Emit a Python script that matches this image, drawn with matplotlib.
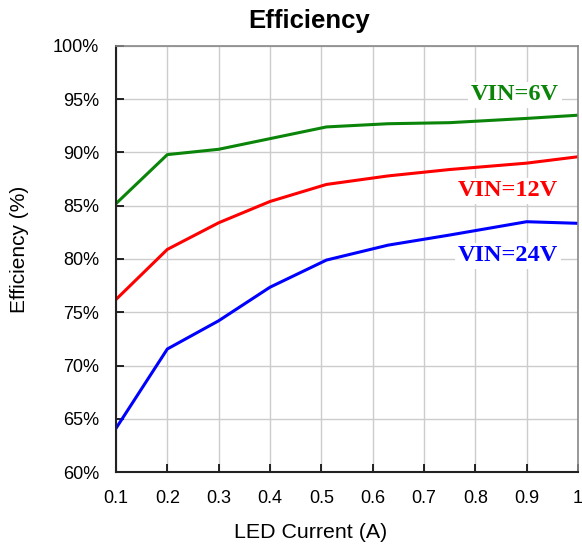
import numpy as np
import matplotlib.pyplot as plt
from matplotlib.ticker import FuncFormatter

plt.rcParams['font.family'] = ['Liberation Sans', 'DejaVu Sans']

# data
x_6v = [0.1, 0.2, 0.3, 0.4, 0.51, 0.63, 0.75, 0.9, 1.0]
eff_6v = [85.2, 89.8, 90.3, 91.3, 92.4, 92.7, 92.8, 93.2, 93.5]

x_12v = [0.1, 0.2, 0.3, 0.4, 0.51, 0.63, 0.75, 0.9, 1.0]
eff_12v = [76.2, 80.9, 83.4, 85.4, 87.0, 87.8, 88.4, 89.0, 89.6]

x_24v = [0.1, 0.2, 0.3, 0.4, 0.51, 0.63, 0.75, 0.9, 1.0]
eff_24v = [64.1, 71.55, 74.2, 77.35, 79.9, 81.3, 82.25, 83.5, 83.35]

x_ticks = [0.1, 0.2, 0.3, 0.4, 0.5, 0.6, 0.7, 0.8, 0.9, 1.0]
x_ticklabels = ['0.1', '0.2', '0.3', '0.4', '0.5', '0.6', '0.7', '0.8', '0.9', '1']
y_ticks = [60, 65, 70, 75, 80, 85, 90, 95, 100]

fig = plt.figure(figsize=(5.82, 5.5), dpi=100)
ax = fig.add_axes([0.1993, 0.1418, 0.7938, 0.7746])

green = '#0a850a'
ax.plot(x_6v, eff_6v, color=green, lw=2.2)
ax.plot(x_12v, eff_12v, color='#ff0000', lw=2.2)
ax.plot(x_24v, eff_24v, color='#0000ff', lw=2.2)

ax.set_xlim(0.1, 1.0)
ax.set_ylim(60, 100)
ax.set_xticks(x_ticks)
ax.set_xticklabels(x_ticklabels)
ax.set_yticks(y_ticks)
ax.yaxis.set_major_formatter(FuncFormatter(lambda v, p: '%d%%' % v))
ax.tick_params(direction='in', length=6, width=1.2, labelsize=13, pad=12)
ax.tick_params(axis='x', pad=13)
ax.grid(True, color='#cccccc', lw=1.0)
ax.set_axisbelow(True)

for s in ['left', 'bottom']:
    ax.spines[s].set_color('#222222')
    ax.spines[s].set_linewidth(1.5)
for s in ['top', 'right']:
    ax.spines[s].set_color('#888888')
    ax.spines[s].set_linewidth(1.2)

box = dict(facecolor='white', edgecolor='none', pad=2)
lab = dict(family='Liberation Serif', fontweight='bold', fontsize=17.5,
           ha='center', va='center', bbox=box)
ax.text(0.877, 95.4, 'VIN=6V', color=green, **lab)
ax.text(0.864, 86.4, 'VIN=12V', color='#ff0000', **lab)
ax.text(0.864, 80.3, 'VIN=24V', color='#0000ff', **lab)

fig.text(311 / 582, 1 - 533 / 550, 'LED Current (A)', fontsize=15.4,
         ha='center', va='center')
fig.text(20 / 582, 1 - 249 / 550, 'Efficiency (%)', fontsize=15,
         rotation=90, ha='center', va='center')
fig.text(309 / 582, 1 - 21 / 550, 'Efficiency', fontsize=18.5,
         fontweight='bold', ha='center', va='center')

fig.savefig('out.png', dpi=100)
